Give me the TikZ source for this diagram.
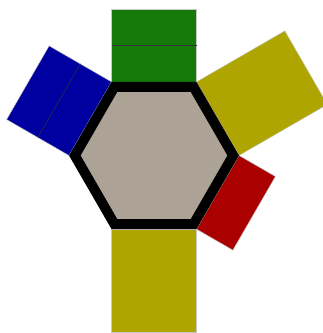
\documentclass[tikz,border=0pt]{standalone}
\usetikzlibrary{calc}
\definecolor{hexfill}{HTML}{ADA296}
\definecolor{leaf}{HTML}{167A0B}
\definecolor{navy}{HTML}{0000A0}
\definecolor{olive}{HTML}{AFA500}
\definecolor{brick}{HTML}{AA0000}
\tikzset{
  tile/.style={draw=black!22,line width=0.4pt},
  seam/.style={draw=black!80,line width=0.5pt},
  rim/.style={draw=black,line width=10pt,fill=hexfill,line join=miter},
}

\begin{document}
\begin{tikzpicture}[x=1pt,y=1pt]
\clip (0,0) rectangle (323,333);
\coordinate (c) at (154,177.5);
% outer corners (where the tiles meet) and mid-line corners of the rim
\foreach \a in {0,60,...,300}{
  \coordinate (o\a) at ($(c)+(\a:85)$);
  \coordinate (i\a) at ($(c)+(\a:79.2)$);
}

% top: two green layers
\fill[leaf,tile] (o60) -- (o120) -- ($(o120)+(90:73)$) -- ($(o60)+(90:73)$) -- cycle;
\draw[seam] ($(o60)+(90:36.5)$) -- ($(o120)+(90:36.5)$);

% upper left: two blue layers
\fill[navy,tile] (o120) -- (o180) -- ($(o180)+(150:72)$) -- ($(o120)+(150:72)$) -- cycle;
\draw[seam] ($(o120)+(150:36)$) -- ($(o180)+(150:36)$);

% upper right: yellow
\fill[olive,tile] (o0) -- (o60) -- ($(o60)+(30:102)$) -- ($(o0)+(30:102)$) -- cycle;

% lower right: red
\fill[brick,tile] (o300) -- (o0) -- ($(o0)+(330:42)$) -- ($(o300)+(330:42)$) -- cycle;

% bottom: yellow
\fill[olive,tile] (o240) -- (o300) -- ($(o300)+(270:103)$) -- ($(o240)+(270:103)$) -- cycle;

% hexagon
\draw[rim] (i0) -- (i60) -- (i120) -- (i180) -- (i240) -- (i300) -- cycle;

\end{tikzpicture}
\end{document}
